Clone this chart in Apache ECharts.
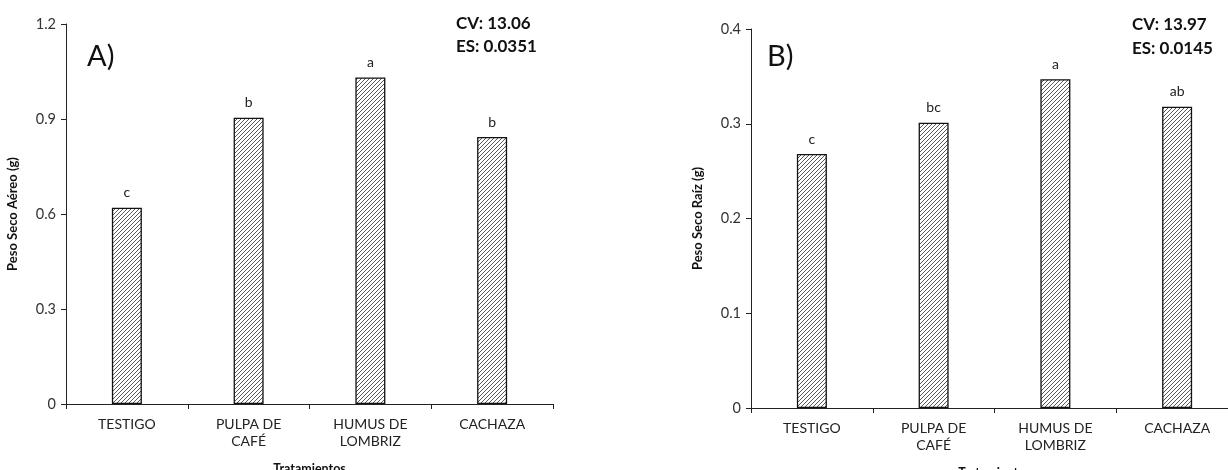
<!DOCTYPE html>
<html><head><meta charset="utf-8">
<script src="https://cdn.jsdelivr.net/npm/echarts@6/dist/echarts.min.js"></script>
<style>html,body{margin:0;padding:0;background:#fff}#c{width:1228px;height:470px}</style>
</head><body><div id="c"></div>
<script>
const categories = ['TESTIGO', 'PULPA DE\nCAFÉ', 'HUMUS DE\nLOMBRIZ', 'CACHAZA'];
const valuesA = [0.62, 0.904, 1.031, 0.843];
const lettersA = ['c', 'b', 'a', 'b'];
const valuesB = [0.268, 0.301, 0.347, 0.318];
const lettersB = ['c', 'bc', 'a', 'ab'];
const ticksA = [0, 0.3, 0.6, 0.9, 1.2];
const ticksB = [0, 0.1, 0.2, 0.3, 0.4];
const statsA = ['CV: 13.06', 'ES: 0.0351'];
const statsB = ['CV: 13.97', 'ES: 0.0145'];

const FONT = 'Lato, "Noto Sans", sans-serif';
const chart = echarts.init(document.getElementById('c'), null, {renderer: 'canvas'});

const pc = document.createElement('canvas');
pc.width = 4; pc.height = 4;
const g = pc.getContext('2d');
g.fillStyle = '#fff'; g.fillRect(0, 0, 4, 4);
g.strokeStyle = '#444'; g.lineWidth = 0.9;
g.beginPath();
g.moveTo(-1, 5); g.lineTo(5, -1);
g.moveTo(-1, 1); g.lineTo(1, -1);
g.moveTo(3, 5); g.lineTo(5, 3);
g.stroke();
const hatch = {image: pc, repeat: 'repeat'};

function xAxis(i) {
  return {
    type: 'category', gridIndex: i, data: categories,
    axisLine: {lineStyle: {color: '#222', width: 1}},
    axisTick: {show: true, length: 5, lineStyle: {color: '#222'}},
    axisLabel: {color: '#222', fontFamily: FONT, fontSize: 14, lineHeight: 17, margin: 12},
    name: 'Tratamientos', nameLocation: 'middle', nameGap: 58,
    nameTextStyle: {fontFamily: FONT, fontWeight: 'bold', fontSize: 12.5, color: '#111'}
  };
}
function yAxis(i, ticks, name, gap) {
  return {
    type: 'value', gridIndex: i, min: ticks[0], max: ticks[ticks.length - 1],
    interval: ticks[1] - ticks[0],
    splitLine: {show: false},
    axisLine: {show: true, lineStyle: {color: '#222', width: 1}},
    axisTick: {show: true, length: 5, lineStyle: {color: '#222'}},
    axisLabel: {color: '#333', fontFamily: FONT, fontSize: 14.5, margin: 10},
    name: name, nameLocation: 'middle', nameGap: gap, nameRotate: 90,
    nameTextStyle: {fontFamily: FONT, fontWeight: 'bold', fontSize: 13, color: '#111'}
  };
}
function series(i, vals, letters) {
  return {
    type: 'bar', xAxisIndex: i, yAxisIndex: i, data: vals, barWidth: 30,
    itemStyle: {color: hatch, borderColor: '#111', borderWidth: 1.3},
    label: {show: true, position: 'top', distance: 8, color: '#222', fontFamily: FONT, fontSize: 14,
      formatter: p => letters[p.dataIndex]}
  };
}

chart.setOption({
  animation: false,
  backgroundColor: '#fff',
  grid: [
    {left: 66, top: 24, width: 487, height: 380, outerBoundsMode: 'none', containLabel: false},
    {left: 751, top: 29, width: 487, height: 379, outerBoundsMode: 'none', containLabel: false}
  ],
  xAxis: [xAxis(0), xAxis(1)],
  yAxis: [yAxis(0, ticksA, 'Peso Seco Aéreo (g)', 47), yAxis(1, ticksB, 'Peso Seco Raíz (g)', 47)],
  series: [series(0, valuesA, lettersA), series(1, valuesB, lettersB)],
  graphic: [
    {type: 'text', left: 87, top: 42, style: {text: 'A)', font: '29px ' + FONT, fill: '#111'}},
    {type: 'text', left: 767, top: 42, style: {text: 'B)', font: '29px ' + FONT, fill: '#111'}},
    {type: 'text', left: 456, top: 12, style: {text: statsA.join('\n'), font: 'bold 17px ' + FONT, lineHeight: 23, fill: '#111'}},
    {type: 'text', left: 1132, top: 13, style: {text: statsB.join('\n'), font: 'bold 17px ' + FONT, lineHeight: 24, fill: '#111'}}
  ]
});
</script></body></html>
